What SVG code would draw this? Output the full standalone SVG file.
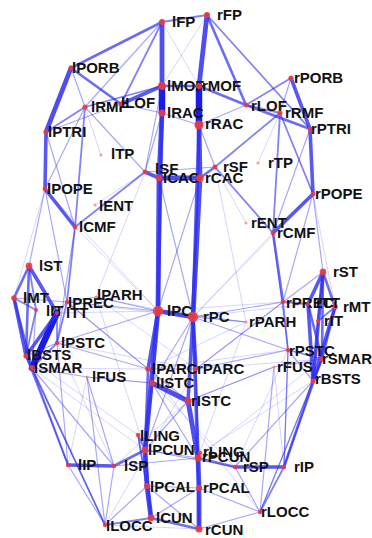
<svg xmlns="http://www.w3.org/2000/svg" width="372" height="538" viewBox="0 0 372 538">
<style>
  line { stroke: #2f2fee; stroke-linecap: round; }
  .e7 { stroke: #1414e6; stroke-width: 6.5; stroke-opacity: 0.97; }
  .e5 { stroke-width: 4.8; stroke-opacity: 0.85; }
  .e4 { stroke-width: 3.6; stroke-opacity: 0.8; }
  .e3 { stroke-width: 2.6; stroke-opacity: 0.7; }
  .e2 { stroke-width: 1.8; stroke-opacity: 0.6; }
  .e1 { stroke-width: 1.2; stroke-opacity: 0.42; }
  .e0 { stroke-width: 0.9; stroke-opacity: 0.22; }
  .n { fill: #f03c3c; fill-opacity: 0.9; }
  .s { fill: #f28c8c; fill-opacity: 0.8; }
  text { font-family: "Liberation Sans", Arial, sans-serif; font-size: 15px; font-weight: bold; fill: #111; }
</style>
<rect width="372" height="538" fill="#ffffff"/>

<g id="connectors">
  <!-- faint long-range links -->
  <line class="e0" x1="158" y1="311" x2="283" y2="302"/>
  <line class="e0" x1="193" y1="317" x2="67" y2="302"/>
  <line class="e0" x1="96" y1="297" x2="193" y2="317"/>
  <line class="e0" x1="57" y1="343" x2="196" y2="369"/>
  <line class="e0" x1="288" y1="350" x2="148" y2="369"/>
  <line class="e0" x1="32" y1="368" x2="148" y2="369"/>
  <line class="e0" x1="322" y1="359" x2="196" y2="369"/>
  <line class="e0" x1="105" y1="525" x2="199" y2="529"/>
  <line class="e0" x1="75" y1="227" x2="158" y2="311"/>
  <line class="e0" x1="273" y1="233" x2="193" y2="317"/>
  <line class="e0" x1="45" y1="189" x2="158" y2="311"/>
  <line class="e0" x1="313" y1="194" x2="193" y2="317"/>
  <line class="e0" x1="145" y1="172" x2="96" y2="297"/>
  <line class="e0" x1="215" y1="167" x2="246" y2="322"/>
  <line class="e0" x1="87" y1="377" x2="68" y2="465"/>
  <line class="e0" x1="274" y1="367" x2="284" y2="467"/>
  <line class="e0" x1="87" y1="377" x2="152" y2="383"/>
  <line class="e0" x1="274" y1="367" x2="188" y2="401"/>
  <line class="e0" x1="57" y1="343" x2="114" y2="466"/>
  <line class="e0" x1="288" y1="350" x2="235" y2="467"/>
  <line class="e0" x1="32" y1="368" x2="145" y2="450"/>
  <line class="e0" x1="322" y1="359" x2="198" y2="458"/>
  <line class="e0" x1="26" y1="356" x2="138" y2="435"/>
  <line class="e0" x1="313" y1="381" x2="200" y2="453"/>
  <line class="e0" x1="148" y1="369" x2="260" y2="512"/>
  <line class="e0" x1="196" y1="369" x2="105" y2="525"/>
  <line class="e0" x1="152" y1="383" x2="235" y2="467"/>
  <line class="e0" x1="188" y1="401" x2="114" y2="466"/>
  <line class="e0" x1="45" y1="189" x2="14" y2="298"/>
  <line class="e0" x1="313" y1="194" x2="335" y2="307"/>
  <line class="e0" x1="101" y1="155" x2="85" y2="107"/>
  <line class="e0" x1="258" y1="163" x2="280" y2="113"/>
  <line class="e0" x1="95" y1="205" x2="145" y2="172"/>
  <line class="e0" x1="246" y1="223" x2="215" y2="167"/>
  <line class="e0" x1="162" y1="22" x2="199" y2="86"/>
  <line class="e0" x1="207" y1="15" x2="162" y2="86"/>
  <line class="e0" x1="96" y1="297" x2="145" y2="450"/>
  <line class="e0" x1="246" y1="322" x2="198" y2="458"/>
  <line class="e0" x1="57" y1="313" x2="158" y2="311"/>
  <line class="e0" x1="308" y1="304" x2="193" y2="317"/>
  <line class="e0" x1="67" y1="302" x2="148" y2="369"/>
  <line class="e0" x1="283" y1="302" x2="196" y2="369"/>
  <line class="e0" x1="246" y1="322" x2="148" y2="369"/>
  <line class="e0" x1="96" y1="297" x2="196" y2="369"/>

  <!-- frontal, left -->
  <line class="e5" x1="162" y1="22" x2="162" y2="86"/>
  <line class="e7" x1="162" y1="86" x2="162" y2="113"/>
  <line class="e5" x1="162" y1="113" x2="159" y2="178"/>
  <line class="e5" x1="159" y1="178" x2="158" y2="311"/>
  <line class="e4" x1="162" y1="113" x2="158" y2="311"/>
  <line class="e2" x1="162" y1="22" x2="207" y2="15"/>
  <line class="e3" x1="162" y1="22" x2="71" y2="68"/>
  <line class="e2" x1="162" y1="22" x2="121" y2="104"/>
  <line class="e1" x1="162" y1="22" x2="85" y2="107"/>
  <line class="e5" x1="71" y1="68" x2="46" y2="132"/>
  <line class="e3" x1="71" y1="68" x2="121" y2="104"/>
  <line class="e1" x1="71" y1="68" x2="85" y2="107"/>
  <line class="e4" x1="121" y1="104" x2="162" y2="86"/>
  <line class="e2" x1="85" y1="107" x2="162" y2="86"/>
  <line class="e2" x1="85" y1="107" x2="46" y2="132"/>
  <line class="e2" x1="85" y1="107" x2="75" y2="227"/>
  <line class="e1" x1="85" y1="107" x2="145" y2="172"/>
  <line class="e1" x1="85" y1="107" x2="45" y2="189"/>
  <line class="e4" x1="46" y1="132" x2="45" y2="189"/>
  <line class="e1" x1="46" y1="132" x2="121" y2="104"/>
  <line class="e1" x1="46" y1="132" x2="75" y2="227"/>
  <line class="e1" x1="121" y1="104" x2="162" y2="113"/>
  <line class="e4" x1="45" y1="189" x2="75" y2="227"/>
  <line class="e1" x1="45" y1="189" x2="29" y2="266"/>
  <line class="e1" x1="45" y1="189" x2="67" y2="302"/>
  <line class="e2" x1="75" y1="227" x2="67" y2="302"/>
  <line class="e2" x1="75" y1="227" x2="145" y2="172"/>
  <line class="e1" x1="75" y1="227" x2="57" y2="343"/>
  <line class="e4" x1="145" y1="172" x2="159" y2="178"/>
  <line class="e1" x1="145" y1="172" x2="162" y2="86"/>
  <line class="e1" x1="145" y1="172" x2="162" y2="113"/>
  <line class="e1" x1="145" y1="172" x2="215" y2="167"/>
  <line class="e5" x1="159" y1="178" x2="200" y2="178"/>
  <line class="e3" x1="162" y1="86" x2="199" y2="86"/>
  <line class="e1" x1="162" y1="113" x2="199" y2="125"/>

  <!-- frontal, right -->
  <line class="e5" x1="207" y1="15" x2="199" y2="86"/>
  <line class="e7" x1="199" y1="86" x2="199" y2="125"/>
  <line class="e5" x1="199" y1="125" x2="200" y2="178"/>
  <line class="e5" x1="200" y1="178" x2="193" y2="317"/>
  <line class="e4" x1="199" y1="125" x2="193" y2="317"/>
  <line class="e3" x1="207" y1="15" x2="246" y2="105"/>
  <line class="e2" x1="207" y1="15" x2="310" y2="129"/>
  <line class="e3" x1="199" y1="86" x2="246" y2="105"/>
  <line class="e2" x1="246" y1="105" x2="291" y2="78"/>
  <line class="e4" x1="291" y1="78" x2="310" y2="129"/>
  <line class="e1" x1="291" y1="78" x2="280" y2="113"/>
  <line class="e3" x1="246" y1="105" x2="310" y2="129"/>
  <line class="e2" x1="246" y1="105" x2="280" y2="113"/>
  <line class="e4" x1="310" y1="129" x2="313" y2="194"/>
  <line class="e2" x1="280" y1="113" x2="273" y2="233"/>
  <line class="e2" x1="280" y1="113" x2="313" y2="194"/>
  <line class="e2" x1="280" y1="113" x2="215" y2="167"/>
  <line class="e1" x1="246" y1="105" x2="199" y2="125"/>
  <line class="e4" x1="313" y1="194" x2="273" y2="233"/>
  <line class="e3" x1="273" y1="233" x2="283" y2="302"/>
  <line class="e2" x1="273" y1="233" x2="215" y2="167"/>
  <line class="e3" x1="215" y1="167" x2="200" y2="178"/>
  <line class="e1" x1="215" y1="167" x2="199" y2="125"/>
  <line class="e1" x1="313" y1="194" x2="283" y2="302"/>
  <line class="e1" x1="313" y1="194" x2="323" y2="272"/>
  <line class="e1" x1="310" y1="129" x2="273" y2="233"/>
  <line class="e1" x1="273" y1="233" x2="288" y2="350"/>

  <!-- temporal, left -->
  <line class="e3" x1="29" y1="266" x2="14" y2="298"/>
  <line class="e4" x1="29" y1="266" x2="57" y2="313"/>
  <line class="e2" x1="29" y1="266" x2="36" y2="310"/>
  <line class="e3" x1="29" y1="266" x2="26" y2="356"/>
  <line class="e4" x1="14" y1="298" x2="26" y2="356"/>
  <line class="e3" x1="14" y1="298" x2="32" y2="368"/>
  <line class="e2" x1="14" y1="298" x2="36" y2="310"/>
  <line class="e1" x1="14" y1="298" x2="67" y2="302"/>
  <line class="e2" x1="36" y1="310" x2="26" y2="356"/>
  <line class="e1" x1="36" y1="310" x2="32" y2="368"/>
  <line class="e7" x1="57" y1="313" x2="32" y2="368"/>
  <line class="e4" x1="57" y1="313" x2="26" y2="356"/>
  <line class="e1" x1="57" y1="313" x2="67" y2="302"/>
  <line class="e2" x1="57" y1="313" x2="57" y2="343"/>
  <line class="e2" x1="67" y1="302" x2="57" y2="343"/>
  <line class="e2" x1="57" y1="343" x2="32" y2="368"/>
  <line class="e1" x1="57" y1="343" x2="26" y2="356"/>
  <line class="e3" x1="26" y1="356" x2="32" y2="368"/>
  <line class="e2" x1="32" y1="368" x2="68" y2="465"/>
  <line class="e2" x1="32" y1="368" x2="105" y2="525"/>
  <line class="e2" x1="26" y1="356" x2="68" y2="465"/>
  <line class="e1" x1="26" y1="356" x2="105" y2="525"/>
  <line class="e1" x1="32" y1="368" x2="114" y2="466"/>
  <line class="e1" x1="67" y1="302" x2="96" y2="297"/>
  <line class="e1" x1="67" y1="302" x2="158" y2="311"/>
  <line class="e1" x1="87" y1="377" x2="32" y2="368"/>
  <line class="e1" x1="87" y1="377" x2="105" y2="525"/>

  <!-- temporal, right -->
  <line class="e3" x1="323" y1="272" x2="335" y2="307"/>
  <line class="e4" x1="323" y1="272" x2="308" y2="304"/>
  <line class="e2" x1="323" y1="272" x2="318" y2="321"/>
  <line class="e4" x1="323" y1="272" x2="313" y2="381"/>
  <line class="e3" x1="323" y1="272" x2="322" y2="359"/>
  <line class="e4" x1="335" y1="307" x2="313" y2="381"/>
  <line class="e3" x1="335" y1="307" x2="322" y2="359"/>
  <line class="e2" x1="335" y1="307" x2="318" y2="321"/>
  <line class="e4" x1="308" y1="304" x2="313" y2="381"/>
  <line class="e3" x1="308" y1="304" x2="322" y2="359"/>
  <line class="e2" x1="318" y1="321" x2="313" y2="381"/>
  <line class="e2" x1="283" y1="302" x2="308" y2="304"/>
  <line class="e1" x1="283" y1="302" x2="323" y2="272"/>
  <line class="e2" x1="283" y1="302" x2="288" y2="350"/>
  <line class="e2" x1="288" y1="350" x2="322" y2="359"/>
  <line class="e1" x1="288" y1="350" x2="313" y2="381"/>
  <line class="e3" x1="322" y1="359" x2="313" y2="381"/>
  <line class="e3" x1="313" y1="381" x2="284" y2="467"/>
  <line class="e2" x1="322" y1="359" x2="284" y2="467"/>
  <line class="e1" x1="313" y1="381" x2="260" y2="512"/>
  <line class="e1" x1="322" y1="359" x2="260" y2="512"/>
  <line class="e1" x1="313" y1="381" x2="235" y2="467"/>
  <line class="e1" x1="283" y1="302" x2="193" y2="317"/>
  <line class="e1" x1="274" y1="367" x2="322" y2="359"/>
  <line class="e1" x1="274" y1="367" x2="260" y2="512"/>
  <line class="e1" x1="288" y1="350" x2="284" y2="467"/>

  <!-- medial and parietal -->
  <line class="e5" x1="158" y1="311" x2="193" y2="317"/>
  <line class="e4" x1="158" y1="311" x2="148" y2="369"/>
  <line class="e3" x1="158" y1="311" x2="152" y2="383"/>
  <line class="e5" x1="158" y1="311" x2="145" y2="450"/>
  <line class="e3" x1="148" y1="369" x2="145" y2="450"/>
  <line class="e3" x1="152" y1="383" x2="145" y2="450"/>
  <line class="e5" x1="152" y1="383" x2="188" y2="401"/>
  <line class="e1" x1="148" y1="369" x2="196" y2="369"/>
  <line class="e1" x1="152" y1="383" x2="193" y2="317"/>
  <line class="e4" x1="193" y1="317" x2="196" y2="369"/>
  <line class="e4" x1="193" y1="317" x2="188" y2="401"/>
  <line class="e4" x1="193" y1="317" x2="198" y2="458"/>
  <line class="e5" x1="188" y1="401" x2="198" y2="458"/>
  <line class="e2" x1="196" y1="369" x2="198" y2="458"/>
  <line class="e5" x1="145" y1="450" x2="147" y2="486"/>
  <line class="e5" x1="147" y1="486" x2="151" y2="518"/>
  <line class="e3" x1="145" y1="450" x2="151" y2="518"/>
  <line class="e2" x1="138" y1="435" x2="145" y2="450"/>
  <line class="e2" x1="138" y1="435" x2="147" y2="486"/>
  <line class="e1" x1="138" y1="435" x2="151" y2="518"/>
  <line class="e2" x1="200" y1="453" x2="198" y2="458"/>
  <line class="e5" x1="198" y1="458" x2="199" y2="488"/>
  <line class="e5" x1="199" y1="488" x2="199" y2="529"/>
  <line class="e3" x1="198" y1="458" x2="199" y2="529"/>
  <line class="e3" x1="151" y1="518" x2="199" y2="529"/>
  <line class="e1" x1="147" y1="486" x2="199" y2="488"/>
  <line class="e1" x1="145" y1="450" x2="198" y2="458"/>
  <line class="e4" x1="114" y1="466" x2="68" y2="465"/>
  <line class="e3" x1="114" y1="466" x2="145" y2="450"/>
  <line class="e1" x1="114" y1="466" x2="105" y2="525"/>
  <line class="e1" x1="68" y1="465" x2="105" y2="525"/>
  <line class="e2" x1="105" y1="525" x2="151" y2="518"/>
  <line class="e1" x1="105" y1="525" x2="147" y2="486"/>
  <line class="e4" x1="235" y1="467" x2="284" y2="467"/>
  <line class="e3" x1="235" y1="467" x2="198" y2="458"/>
  <line class="e1" x1="235" y1="467" x2="260" y2="512"/>
  <line class="e2" x1="284" y1="467" x2="260" y2="512"/>
  <line class="e1" x1="260" y1="512" x2="199" y2="529"/>
  <line class="e1" x1="260" y1="512" x2="199" y2="488"/>
  <line class="e1" x1="114" y1="466" x2="198" y2="458"/>
  <line class="e1" x1="235" y1="467" x2="145" y2="450"/>
  <line class="e1" x1="68" y1="465" x2="57" y2="343"/>
  <line class="e1" x1="114" y1="466" x2="87" y2="377"/>
  <line class="e1" x1="284" y1="467" x2="288" y2="350"/>
  <line class="e1" x1="158" y1="311" x2="200" y2="178"/>
  <line class="e1" x1="193" y1="317" x2="159" y2="178"/>
  <line class="e1" x1="158" y1="311" x2="96" y2="297"/>
  <line class="e1" x1="193" y1="317" x2="246" y2="322"/>
  <line class="e1" x1="158" y1="311" x2="246" y2="322"/>
  <line class="e1" x1="158" y1="311" x2="57" y2="343"/>
  <line class="e1" x1="193" y1="317" x2="288" y2="350"/>
  <line class="e1" x1="148" y1="369" x2="57" y2="343"/>
  <line class="e1" x1="196" y1="369" x2="288" y2="350"/>
  <line class="e1" x1="148" y1="369" x2="67" y2="302"/>
  <line class="e1" x1="196" y1="369" x2="283" y2="302"/>
  <line class="e1" x1="152" y1="383" x2="87" y2="377"/>
  <line class="e1" x1="188" y1="401" x2="274" y2="367"/>
  <line class="e1" x1="152" y1="383" x2="198" y2="458"/>
  <line class="e1" x1="188" y1="401" x2="145" y2="450"/>
  <line class="e1" x1="148" y1="369" x2="188" y2="401"/>
  <line class="e1" x1="145" y1="450" x2="193" y2="317"/>
  <line class="e1" x1="151" y1="518" x2="199" y2="488"/>
  <line class="e1" x1="199" y1="529" x2="147" y2="486"/>
</g>

<g id="nodes">
  <g id="lFP"><circle class="n" cx="162" cy="22" r="3"/><text x="172" y="27">lFP</text></g>
  <g id="rFP"><circle class="n" cx="207" cy="15" r="3"/><text x="217" y="20">rFP</text></g>
  <g id="lPORB"><circle class="n" cx="71" cy="68" r="2.6"/><text x="72" y="73">lPORB</text></g>
  <g id="rPORB"><circle class="n" cx="291" cy="78" r="2.6"/><text x="294" y="83">rPORB</text></g>
  <g id="lMOF"><circle class="n" cx="162" cy="86" r="4"/><text x="167" y="91">lMOF</text></g>
  <g id="rMOF"><circle class="n" cx="199" cy="86" r="3"/><text x="202" y="91">rMOF</text></g>
  <g id="lRMF"><circle class="n" cx="85" cy="107" r="2.6"/><text x="91" y="112">lRMF</text></g>
  <g id="lLOF"><circle class="n" cx="121" cy="104" r="2.4"/><text x="121" y="108">lLOF</text></g>
  <g id="rLOF"><circle class="n" cx="246" cy="105" r="2.4"/><text x="251" y="111">rLOF</text></g>
  <g id="rRMF"><circle class="n" cx="280" cy="113" r="2.6"/><text x="285" y="118">rRMF</text></g>
  <g id="lRAC"><circle class="n" cx="162" cy="113" r="3.5"/><text x="167" y="118">lRAC</text></g>
  <g id="rRAC"><circle class="n" cx="199" cy="125" r="4.6"/><text x="205" y="129">rRAC</text></g>
  <g id="lPTRI"><circle class="n" cx="46" cy="132" r="2.4"/><text x="48" y="137">lPTRI</text></g>
  <g id="rPTRI"><circle class="n" cx="310" cy="129" r="2.4"/><text x="311" y="134">rPTRI</text></g>
  <g id="lTP"><circle class="s" cx="101" cy="155" r="1.6"/><text x="111" y="159">lTP</text></g>
  <g id="rTP"><circle class="s" cx="258" cy="163" r="1.6"/><text x="268" y="168">rTP</text></g>
  <g id="lSF"><circle class="n" cx="145" cy="172" r="2.4"/><text x="155" y="174">lSF</text></g>
  <g id="rSF"><circle class="n" cx="215" cy="167" r="2.4"/><text x="223" y="172">rSF</text></g>
  <g id="lCAC"><circle class="n" cx="159" cy="178" r="3.2"/><text x="163" y="183">lCAC</text></g>
  <g id="rCAC"><circle class="n" cx="200" cy="178" r="3.8"/><text x="205" y="183">rCAC</text></g>
  <g id="lPOPE"><circle class="n" cx="45" cy="189" r="2.4"/><text x="47" y="194">lPOPE</text></g>
  <g id="rPOPE"><circle class="n" cx="313" cy="194" r="2.4"/><text x="315" y="199">rPOPE</text></g>
  <g id="lENT"><circle class="s" cx="95" cy="205" r="1.6"/><text x="99" y="211">lENT</text></g>
  <g id="rENT"><circle class="s" cx="246" cy="223" r="1.6"/><text x="251" y="228">rENT</text></g>
  <g id="lCMF"><circle class="n" cx="75" cy="227" r="2.4"/><text x="79" y="232">lCMF</text></g>
  <g id="rCMF"><circle class="n" cx="273" cy="233" r="2.4"/><text x="277" y="238">rCMF</text></g>
  <g id="lST"><circle class="n" cx="29" cy="266" r="3.4"/><text x="39" y="271">lST</text></g>
  <g id="rST"><circle class="n" cx="323" cy="272" r="3.4"/><text x="333" y="277">rST</text></g>
  <g id="lMT"><circle class="n" cx="14" cy="298" r="2.8"/><text x="23" y="303">lMT</text></g>
  <g id="rMT"><circle class="n" cx="335" cy="307" r="2.8"/><text x="343" y="312">rMT</text></g>
  <g id="lPREC"><circle class="n" cx="67" cy="302" r="2.2"/><text x="68" y="308">lPREC</text></g>
  <g id="rPREC"><circle class="n" cx="283" cy="302" r="2.2"/><text x="286" y="308">rPREC</text></g>
  <g id="lPARH"><circle class="s" cx="96" cy="297" r="1.6"/><text x="97" y="300">lPARH</text></g>
  <g id="rPARH"><circle class="s" cx="246" cy="322" r="1.6"/><text x="249" y="327">rPARH</text></g>
  <g id="lIT"><circle class="n" cx="36" cy="310" r="2"/><text x="46" y="316">lIT</text></g>
  <g id="rIT"><circle class="n" cx="318" cy="321" r="2"/><text x="324" y="326">rIT</text></g>
  <g id="lTT"><circle class="n" cx="57" cy="313" r="2"/><text x="66" y="318">lTT</text></g>
  <g id="rTT"><circle class="n" cx="308" cy="304" r="2"/><text x="316" y="308">rTT</text></g>
  <g id="lPC"><circle class="n" cx="158" cy="311" r="5.2"/><text x="167" y="316">lPC</text></g>
  <g id="rPC"><circle class="n" cx="193" cy="317" r="5.2"/><text x="203" y="322">rPC</text></g>
  <g id="lPSTC"><circle class="n" cx="57" cy="343" r="2.2"/><text x="61" y="348">lPSTC</text></g>
  <g id="rPSTC"><circle class="n" cx="288" cy="350" r="2.2"/><text x="289" y="356">rPSTC</text></g>
  <g id="lBSTS"><circle class="n" cx="26" cy="356" r="2.6"/><text x="27" y="360">lBSTS</text></g>
  <g id="rBSTS"><circle class="n" cx="313" cy="381" r="2.6"/><text x="315" y="384">rBSTS</text></g>
  <g id="lSMAR"><circle class="n" cx="32" cy="368" r="2.8"/><text x="34" y="373">lSMAR</text></g>
  <g id="rSMAR"><circle class="n" cx="322" cy="359" r="2.8"/><text x="322" y="364">rSMAR</text></g>
  <g id="lFUS"><circle class="s" cx="87" cy="377" r="1.6"/><text x="92" y="382">lFUS</text></g>
  <g id="rFUS"><circle class="s" cx="274" cy="367" r="1.6"/><text x="277" y="372">rFUS</text></g>
  <g id="lPARC"><circle class="n" cx="148" cy="369" r="2.8"/><text x="152" y="374">lPARC</text></g>
  <g id="rPARC"><circle class="n" cx="196" cy="369" r="2.4"/><text x="197" y="374">rPARC</text></g>
  <g id="lISTC"><circle class="n" cx="152" cy="383" r="3"/><text x="156" y="388">lISTC</text></g>
  <g id="rISTC"><circle class="n" cx="188" cy="401" r="3.4"/><text x="191" y="406">rISTC</text></g>
  <g id="lLING"><circle class="n" cx="138" cy="435" r="2.2"/><text x="140" y="441">lLING</text></g>
  <g id="rLING"><circle class="n" cx="200" cy="453" r="2.2"/><text x="203" y="457">rLING</text></g>
  <g id="lPCUN"><circle class="n" cx="145" cy="450" r="3.4"/><text x="148" y="455">lPCUN</text></g>
  <g id="rPCUN"><circle class="n" cx="198" cy="458" r="3.4"/><text x="202" y="462">rPCUN</text></g>
  <g id="lIP"><circle class="n" cx="68" cy="465" r="2.2"/><text x="78" y="470">lIP</text></g>
  <g id="rIP"><circle class="n" cx="284" cy="467" r="2.2"/><text x="294" y="472">rIP</text></g>
  <g id="lSP"><circle class="n" cx="114" cy="466" r="2.2"/><text x="124" y="471">lSP</text></g>
  <g id="rSP"><circle class="n" cx="235" cy="467" r="2.2"/><text x="243" y="472">rSP</text></g>
  <g id="lPCAL"><circle class="n" cx="147" cy="486" r="3"/><text x="150" y="492">lPCAL</text></g>
  <g id="rPCAL"><circle class="n" cx="199" cy="488" r="3"/><text x="203" y="493">rPCAL</text></g>
  <g id="lCUN"><circle class="n" cx="151" cy="518" r="3.4"/><text x="156" y="523">lCUN</text></g>
  <g id="rCUN"><circle class="n" cx="199" cy="529" r="3.6"/><text x="205" y="535">rCUN</text></g>
  <g id="lLOCC"><circle class="n" cx="105" cy="525" r="2.2"/><text x="106" y="531">lLOCC</text></g>
  <g id="rLOCC"><circle class="n" cx="260" cy="512" r="2.2"/><text x="261" y="517">rLOCC</text></g>
</g>
</svg>
